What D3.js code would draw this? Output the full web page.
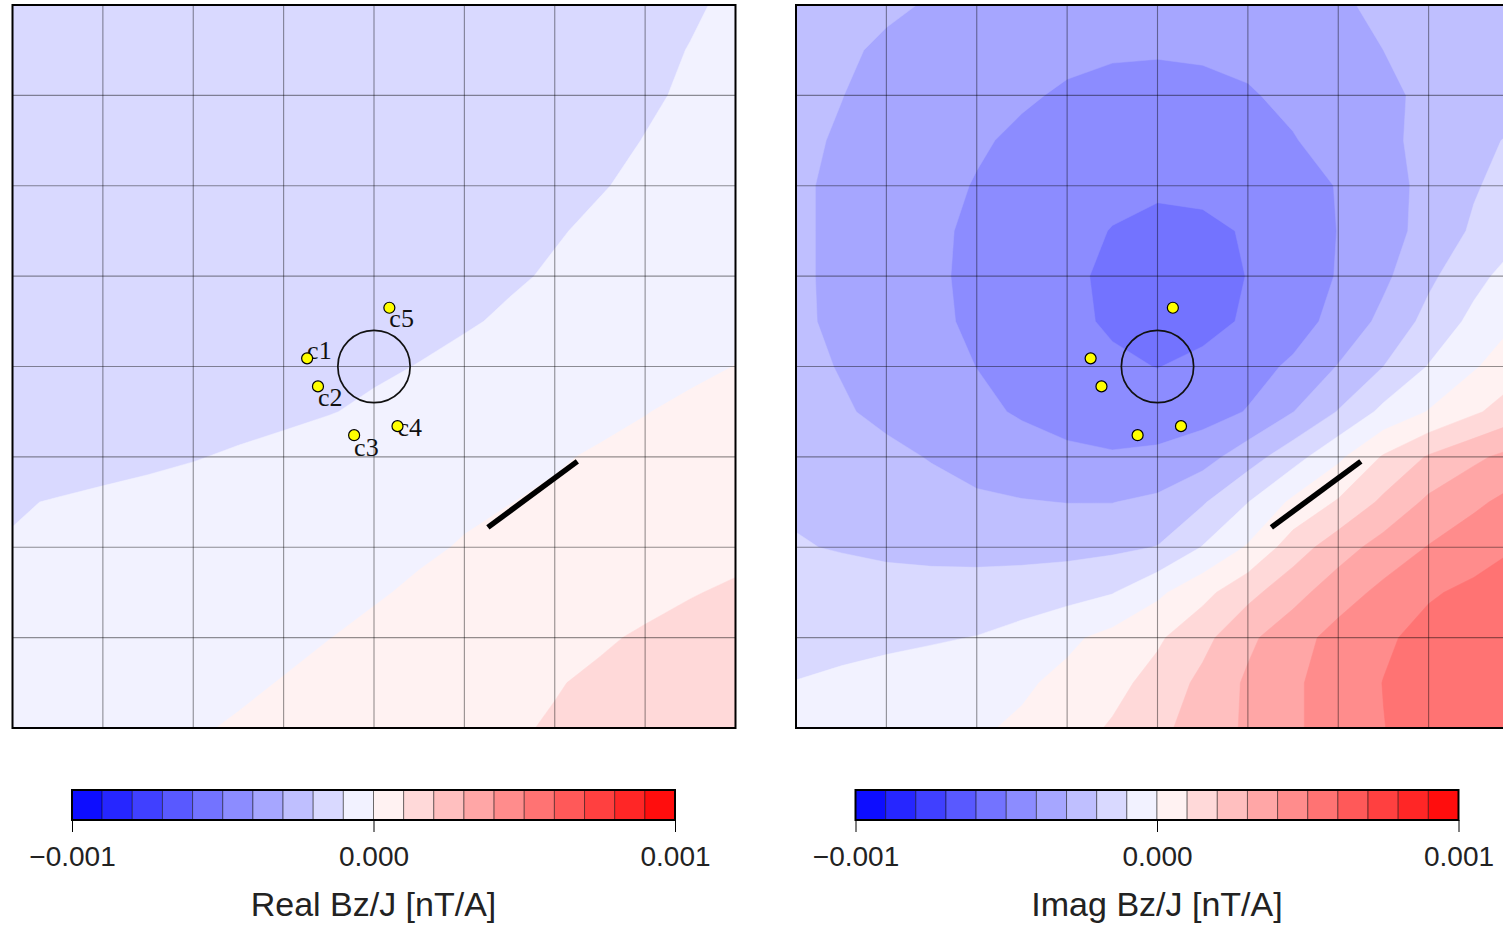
<!DOCTYPE html>
<html>
<head>
<meta charset="utf-8">
<script src="https://cdn.jsdelivr.net/npm/d3@7"></script>
<style>
  body { margin: 0; background: #fff; }
  svg { display: block; }
</style>
</head>
<body>
<div id="chart"></div>
<script>
// Bz/J maps, values in units of 1e-4 nT/A
// 17 x 17 nodes every 0.5 from -4 to 4, rows from top (y = 4) to bottom (y = -4)
const realBz = [
  [-1.75,-1.74,-1.73,-1.71,-1.69,-1.66,-1.63,-1.59,-1.55,-1.50,-1.44,-1.38,-1.31,-1.23,-1.14,-1.04,-0.94],
  [-1.73,-1.72,-1.71,-1.69,-1.67,-1.64,-1.61,-1.57,-1.52,-1.47,-1.41,-1.34,-1.26,-1.17,-1.08,-0.99,-0.90],
  [-1.72,-1.71,-1.70,-1.68,-1.66,-1.63,-1.59,-1.55,-1.50,-1.44,-1.38,-1.31,-1.23,-1.14,-1.05,-0.95,-0.85],
  [-1.71,-1.70,-1.69,-1.67,-1.65,-1.62,-1.58,-1.54,-1.49,-1.43,-1.36,-1.28,-1.19,-1.09,-0.99,-0.87,-0.75],
  [-1.70,-1.69,-1.68,-1.66,-1.64,-1.61,-1.57,-1.52,-1.47,-1.40,-1.33,-1.24,-1.14,-1.03,-0.90,-0.77,-0.65],
  [-1.69,-1.68,-1.67,-1.65,-1.62,-1.59,-1.54,-1.49,-1.42,-1.34,-1.25,-1.15,-1.04,-0.91,-0.78,-0.65,-0.52],
  [-1.68,-1.67,-1.65,-1.63,-1.60,-1.56,-1.51,-1.45,-1.37,-1.28,-1.18,-1.07,-0.94,-0.80,-0.65,-0.50,-0.35],
  [-1.66,-1.65,-1.63,-1.60,-1.56,-1.51,-1.45,-1.38,-1.29,-1.18,-1.06,-0.92,-0.77,-0.62,-0.47,-0.32,-0.17],
  [-1.62,-1.60,-1.57,-1.53,-1.47,-1.40,-1.32,-1.22,-1.10,-0.98,-0.84,-0.70,-0.56,-0.41,-0.27,-0.13, 0.01],
  [-1.55,-1.52,-1.48,-1.42,-1.35,-1.26,-1.15,-1.03,-0.89,-0.74,-0.60,-0.45,-0.31,-0.16,-0.02, 0.13, 0.27],
  [-1.40,-1.33,-1.25,-1.15,-1.04,-0.91,-0.79,-0.67,-0.55,-0.43,-0.30,-0.18,-0.06, 0.07, 0.19, 0.31, 0.43],
  [-1.06,-0.96,-0.86,-0.77,-0.68,-0.59,-0.50,-0.40,-0.30,-0.20,-0.10,-0.01, 0.09, 0.19, 0.29, 0.40, 0.50],
  [-0.95,-0.89,-0.82,-0.74,-0.66,-0.56,-0.45,-0.33,-0.21,-0.09, 0.04, 0.16, 0.29, 0.41, 0.54, 0.67, 0.80],
  [-0.88,-0.83,-0.77,-0.69,-0.59,-0.47,-0.34,-0.20,-0.06, 0.09, 0.23, 0.38, 0.52, 0.67, 0.81, 0.96, 1.10],
  [-0.79,-0.73,-0.65,-0.55,-0.43,-0.30,-0.16,-0.01, 0.14, 0.30, 0.45, 0.61, 0.77, 0.92, 1.08, 1.24, 1.39],
  [-0.68,-0.61,-0.51,-0.39,-0.26,-0.12, 0.03, 0.19, 0.34, 0.49, 0.65, 0.80, 0.96, 1.11, 1.26, 1.42, 1.57],
  [-0.53,-0.44,-0.33,-0.20,-0.07, 0.07, 0.21, 0.35, 0.50, 0.64, 0.78, 0.92, 1.06, 1.20, 1.34, 1.48, 1.62]
]

const imagBz = [
  [-2.60,-2.75,-2.90,-3.05,-3.25,-3.45,-3.60,-3.75,-3.80,-3.75,-3.60,-3.40,-3.10,-2.85,-2.70,-2.60,-2.50],
  [-2.75,-2.90,-3.10,-3.35,-3.55,-3.70,-3.82,-3.88,-3.90,-3.85,-3.78,-3.55,-3.25,-3.00,-2.80,-2.65,-2.50],
  [-2.80,-2.98,-3.30,-3.55,-3.75,-3.90,-4.10,-4.30,-4.40,-4.30,-4.08,-3.80,-3.50,-3.15,-2.85,-2.60,-2.40],
  [-2.80,-3.10,-3.45,-3.70,-3.90,-4.15,-4.40,-4.60,-4.70,-4.60,-4.40,-4.05,-3.65,-3.20,-2.75,-2.30,-1.80],
  [-2.85,-3.20,-3.50,-3.75,-4.05,-4.35,-4.60,-4.78,-4.85,-4.78,-4.55,-4.25,-3.97,-3.35,-2.75,-2.10,-1.50],
  [-2.85,-3.20,-3.55,-3.85,-4.15,-4.50,-4.75,-5.03,-5.25,-5.20,-4.92,-4.50,-3.98,-3.35,-2.70,-1.85,-1.20],
  [-2.85,-3.20,-3.55,-3.85,-4.20,-4.50,-4.85,-5.15,-5.35,-5.30,-4.98,-4.45,-3.95,-3.20,-2.20,-1.30,-0.50],
  [-2.85,-3.17,-3.50,-3.83,-4.15,-4.50,-4.80,-5.12,-5.35,-5.25,-4.90,-4.40,-3.70,-2.75,-1.70,-0.75, 0.02],
  [-2.75,-3.05,-3.38,-3.70,-4.01,-4.30,-4.60,-4.85,-5.02,-4.80,-4.35,-3.85,-2.95,-2.00,-0.95,-0.10, 0.70],
  [-2.60,-2.90,-3.20,-3.50,-3.80,-4.10,-4.35,-4.55,-4.55,-4.40,-3.95,-3.02,-1.95,-0.75, 0.05, 0.85, 1.60],
  [-2.45,-2.60,-2.80,-3.05,-3.35,-3.60,-3.80,-3.90,-3.80,-3.40,-2.45,-1.40,-0.20, 1.10, 2.10, 2.80, 3.40],
  [-2.10,-2.30,-2.50,-2.70,-2.85,-2.95,-3.02,-3.02,-2.80,-2.10,-1.02, 0.20, 1.10, 2.20, 3.20, 3.80, 4.40],
  [-1.95,-2.05,-2.15,-2.22,-2.28,-2.30,-2.30,-2.20,-1.97,-0.95, 0.10, 1.50, 2.55, 3.40, 4.05, 4.60, 5.00],
  [-1.60,-1.65,-1.70,-1.70,-1.65,-1.55,-1.35,-1.05,-0.20, 0.70, 1.70, 2.65, 3.55, 4.25, 4.90, 5.20, 5.50],
  [-1.30,-1.25,-1.18,-1.10,-0.97,-0.65,-0.20, 0.30, 0.85, 1.70, 2.80, 3.60, 4.35, 4.85, 5.30, 5.60, 5.80],
  [-0.98,-0.85,-0.70,-0.50,-0.35,-0.15, 0.25, 0.70, 1.35, 2.25, 3.15, 3.85, 4.45, 5.02, 5.40, 5.65, 5.85],
  [-0.75,-0.60,-0.45,-0.30,-0.12, 0.15, 0.60, 1.10, 1.75, 2.45, 3.15, 3.85, 4.45, 4.98, 5.38, 5.65, 5.85]
]

// band lower edges (1e-4 nT/A) and colour bar ticks (nT/A)
const levels = d3.range(-10, 10)
const cbTicks = [-0.001, 0, 0.001]
const gridTicks = d3.range(-4, 5)

// survey layout
const loopR = 0.4
const receivers = ["c1", "c2", "c3", "c4", "c5"]
const receiverX = [-0.74, -0.62, -0.22, 0.26, 0.17]
const receiverY = [0.09, -0.22, -0.76, -0.66, 0.65]
const wireX = [1.26, 2.25]
const wireY = [-1.78, -1.05]

const W = 1503, H = 925
const SIZE = 723
const TOP = 5
const NODES = 17
// label nudge below each receiver dot, px
const labelDy = {c1: 1, c2: 20, c3: 21, c4: 10, c5: 19}

const panels = [
  {id: "re", x0: 12.5, values: realBz, title: "Real Bz/J [nT/A]", labels: true},
  {id: "im", x0: 796, values: imagBz, title: "Imag Bz/J [nT/A]", labels: false}
]

const bandColor = d3.scaleLinear()
  .domain([-10, 0, 10])
  .range(["#0000ff", "#ffffff", "#ff0000"])

const svg = d3.select("#chart").append("svg")
  .attr("width", W)
  .attr("height", H)

const defs = svg.append("defs")

panels.forEach(p => {
  const x = d3.scaleLinear().domain([-4, 4]).range([p.x0, p.x0 + SIZE])
  const y = d3.scaleLinear().domain([4, -4]).range([TOP, TOP + SIZE])

  // grid index space of d3.contours -> data -> pixels
  const gx = d3.scaleLinear().domain([0.5, NODES - 0.5]).range([x(-4), x(4)])
  const gy = d3.scaleLinear().domain([0.5, NODES - 0.5]).range([y(4), y(-4)])
  const path = d3.geoPath(d3.geoTransform({
    point(a, b) { this.stream.point(gx(a), gy(b)) }
  }))

  defs.append("clipPath").attr("id", "clip-" + p.id)
    .append("rect")
    .attr("x", x(-4)).attr("y", y(4))
    .attr("width", SIZE).attr("height", SIZE)

  const g = svg.append("g")
  const field = g.append("g").attr("clip-path", `url(#clip-${p.id})`)

  const bands = d3.contours()
    .size([NODES, NODES])
    .thresholds(levels)(p.values.flat())

  field.selectAll("path.band")
    .data(bands)
    .enter().append("path")
    .attr("class", "band")
    .attr("d", path)
    .attr("fill", d => bandColor(d.value + 0.5))
    .attr("stroke", d => bandColor(d.value + 0.5))
    .attr("stroke-width", 0.5)

  // grid
  field.selectAll("line.gv")
    .data(gridTicks)
    .enter().append("line")
    .attr("x1", d => x(d)).attr("x2", d => x(d))
    .attr("y1", y(4)).attr("y2", y(-4))
    .attr("stroke", "#000").attr("stroke-opacity", 0.42).attr("stroke-width", 1.1)
  field.selectAll("line.gh")
    .data(gridTicks)
    .enter().append("line")
    .attr("y1", d => y(d)).attr("y2", d => y(d))
    .attr("x1", x(-4)).attr("x2", x(4))
    .attr("stroke", "#000").attr("stroke-opacity", 0.42).attr("stroke-width", 1.1)

  // transmitter loop and wire
  field.append("circle")
    .attr("cx", x(0)).attr("cy", y(0))
    .attr("r", x(loopR) - x(0))
    .attr("fill", "none").attr("stroke", "#111").attr("stroke-width", 1.7)

  field.append("line")
    .attr("x1", x(wireX[0])).attr("y1", y(wireY[0]))
    .attr("x2", x(wireX[1])).attr("y2", y(wireY[1]))
    .attr("stroke", "#000").attr("stroke-width", 5.5)

  if (p.labels) {
    field.selectAll("text.rx")
      .data(receivers)
      .enter().append("text")
      .attr("x", (d, i) => x(receiverX[i]))
      .attr("y", (d, i) => y(receiverY[i]) + labelDy[d])
      .attr("font-family", "'Liberation Serif', serif")
      .attr("font-size", 26)
      .attr("fill", "#111")
      .text(d => d)
  }

  field.selectAll("circle.rx")
    .data(receivers)
    .enter().append("circle")
    .attr("class", "rx")
    .attr("cx", (d, i) => x(receiverX[i]))
    .attr("cy", (d, i) => y(receiverY[i]))
    .attr("r", 5.5)
    .attr("fill", "#ffff00")
    .attr("stroke", "#000").attr("stroke-width", 1.2)

  g.append("rect")
    .attr("x", x(-4)).attr("y", y(4))
    .attr("width", SIZE).attr("height", SIZE)
    .attr("fill", "none").attr("stroke", "#000").attr("stroke-width", 2)

  // colour bar
  const cx = d3.scaleLinear().domain([-0.001, 0.001]).range([p.x0 + 59.5, p.x0 + 662.5])
  const cb = svg.append("g")
  const CB_TOP = 790, CB_H = 30

  cb.selectAll("rect.bin")
    .data(levels)
    .enter().append("rect")
    .attr("x", d => cx(d * 1e-4))
    .attr("y", CB_TOP)
    .attr("width", d => cx((d + 1) * 1e-4) - cx(d * 1e-4))
    .attr("height", CB_H)
    .attr("fill", d => bandColor(d + 0.5))
    .attr("stroke", "rgba(0,0,0,0.45)").attr("stroke-width", 1)

  cb.append("rect")
    .attr("x", cx(-0.001)).attr("y", CB_TOP)
    .attr("width", cx(0.001) - cx(-0.001)).attr("height", CB_H)
    .attr("fill", "none").attr("stroke", "#000").attr("stroke-width", 2)

  const axis = cb.append("g")
    .attr("transform", `translate(0, ${CB_TOP + CB_H})`)
    .call(d3.axisBottom(cx)
      .tickValues(cbTicks)
      .tickFormat(d3.format(".3f"))
      .tickSize(12)
      .tickPadding(14))
  axis.select(".domain").remove()
  axis.selectAll("text")
    .attr("font-family", "'Liberation Sans', Arial, sans-serif")
    .attr("font-size", 28)
    .attr("fill", "#222")

  cb.append("text")
    .attr("x", cx(0))
    .attr("y", 916)
    .attr("text-anchor", "middle")
    .attr("font-family", "'Liberation Sans', Arial, sans-serif")
    .attr("font-size", 34)
    .attr("fill", "#222")
    .text(p.title)
})
</script>
</body>
</html>
